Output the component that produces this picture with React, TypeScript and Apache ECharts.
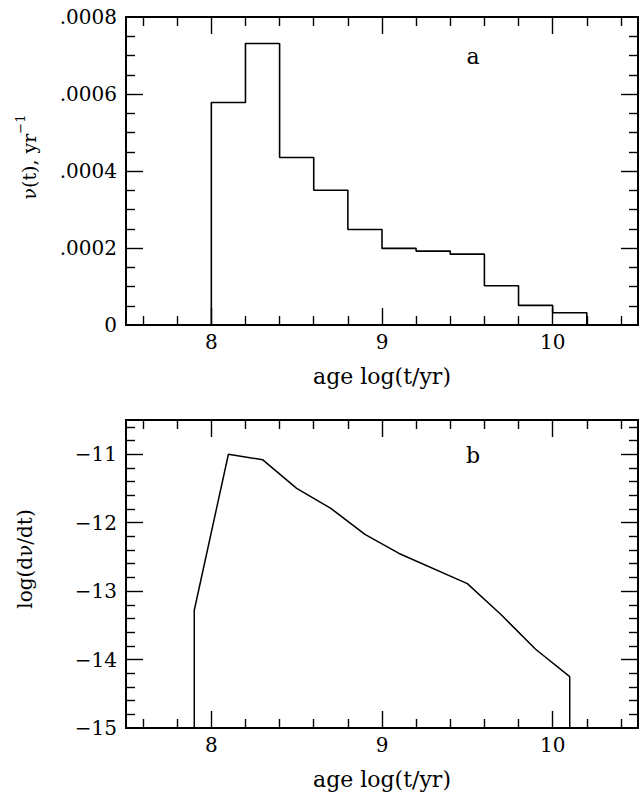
import React, { useEffect, useRef } from "react";
import * as echarts from "echarts";

// ---- Panel a: histogram of birth rate nu(t) ----
const binEdges = [7.8, 8.0, 8.2, 8.4, 8.6, 8.8, 9.0, 9.2, 9.4, 9.6, 9.8, 10.0, 10.2];
const rates = [0, 0.000578, 0.000731, 0.000435, 0.00035, 0.000248, 0.000199, 0.000192, 0.000184, 0.000102, 0.000051, 0.000032];

// ---- Panel b: log(d nu / dt) ----
const ages = [7.9, 7.9, 8.1, 8.3, 8.5, 8.7, 8.9, 9.1, 9.5, 9.7, 9.9, 10.1, 10.1];
const logRates = [-15, -13.28, -11.0, -11.08, -11.5, -11.79, -12.17, -12.45, -12.89, -13.35, -13.85, -14.25, -15];

// ---- ticks ----
const xLabels = [8, 9, 10];
const xMajorTicks = [8, 9, 10];
const xMinorTicks = [7.6, 7.8, 8.2, 8.4, 8.6, 8.8, 9.2, 9.4, 9.6, 9.8, 10.2, 10.4];
const yaLabels = [0, 0.0002, 0.0004, 0.0006, 0.0008];
const yaMajorTicks = [0.0002, 0.0004, 0.0006];
const yaMinorTicks = [0.00005, 0.0001, 0.00015, 0.00025, 0.0003, 0.00035, 0.00045, 0.0005, 0.00055, 0.00065, 0.0007, 0.00075];
const ybLabels = [-15, -14, -13, -12, -11];
const ybMajorTicks = [-14, -13, -12, -11];
const ybMinorTicks = [-14.8, -14.6, -14.4, -14.2, -13.8, -13.6, -13.4, -13.2, -12.8, -12.6, -12.4, -12.2, -11.8, -11.6, -11.4, -11.2, -10.8, -10.6];

const FONT = "'DejaVu Serif', serif";
const INK = "#000";
const LINE = { color: INK, width: 1.8 };

function buildPanel(
  p: number,
  top: number,
  yMin: number,
  yMax: number,
  yLabels: number[],
  yMajor: number[],
  yMinor: number[],
  yFmt: (v: number) => string
) {
  const grids = [
    { left: 126, top, width: 512, height: 308, containLabel: false },
    { left: 126, top, width: 512, height: 308, containLabel: false },
  ];
  const xBase = {
    type: "value",
    min: 7.5,
    max: 10.5,
    splitLine: { show: false },
    axisLine: { show: true, onZero: false, lineStyle: LINE },
  };
  const yBase = {
    type: "value",
    min: yMin,
    max: yMax,
    splitLine: { show: false },
    axisLine: { show: true, onZero: false, lineStyle: LINE },
  };
  const tick = (vals: number[], len: number) => ({
    show: true,
    inside: true,
    length: len,
    customValues: vals,
    lineStyle: { color: INK, width: 1.4 },
  });
  const xAxes = [
    {
      ...xBase,
      gridIndex: 2 * p,
      position: "bottom",
      axisTick: tick(xMajorTicks, 17),
      axisLabel: {
        show: true,
        customValues: xLabels,
        margin: 7,
        fontFamily: FONT,
        fontSize: 20,
        color: INK,
      },
      name: "age log(t/yr)",
      nameLocation: "middle",
      nameGap: 40,
      nameTextStyle: { fontFamily: FONT, fontSize: 22, color: INK },
    },
    { ...xBase, gridIndex: 2 * p, position: "top", axisTick: tick(xMajorTicks, 17), axisLabel: { show: false } },
    { ...xBase, gridIndex: 2 * p + 1, position: "bottom", axisTick: tick(xMinorTicks, 9), axisLabel: { show: false } },
    { ...xBase, gridIndex: 2 * p + 1, position: "top", axisTick: tick(xMinorTicks, 9), axisLabel: { show: false } },
  ];
  const yAxes = [
    {
      ...yBase,
      gridIndex: 2 * p,
      position: "left",
      axisTick: tick(yMajor, 17),
      axisLabel: {
        show: true,
        customValues: yLabels,
        margin: 9,
        fontFamily: FONT,
        fontSize: 20,
        color: INK,
        formatter: yFmt,
      },
    },
    { ...yBase, gridIndex: 2 * p, position: "right", axisTick: tick(yMajor, 17), axisLabel: { show: false } },
    { ...yBase, gridIndex: 2 * p + 1, position: "left", axisTick: tick(yMinor, 9), axisLabel: { show: false } },
    { ...yBase, gridIndex: 2 * p + 1, position: "right", axisTick: tick(yMinor, 9), axisLabel: { show: false } },
  ];
  return { grids, xAxes, yAxes };
}

export default function App() {
  const ref = useRef<HTMLDivElement>(null);
  useEffect(() => {
    if (!ref.current) return;
    const chart = echarts.init(ref.current, undefined, { renderer: "svg" });

    const a = buildPanel(0, 17, 0, 0.0008, yaLabels, yaMajorTicks, yaMinorTicks, (v: number) =>
      v === 0 ? "0" : v.toFixed(4).replace(/^0/, "")
    );
    const b = buildPanel(1, 420, -15, -10.5, ybLabels, ybMajorTicks, ybMinorTicks, (v: number) =>
      String(v).replace("-", "\u2212")
    );

    const histData = binEdges.map((e, i) => [e, i < rates.length ? rates[i] : 0]);
    const curveData = ages.map((t, i) => [t, logRates[i]]);

    chart.setOption({
      animation: false,
      backgroundColor: "#fff",
      grid: [...a.grids, ...b.grids],
      xAxis: [...a.xAxes, ...b.xAxes],
      yAxis: [...a.yAxes, ...b.yAxes],
      series: [
        {
          type: "line",
          name: "nu(t)",
          xAxisIndex: 0,
          yAxisIndex: 0,
          step: "end",
          data: histData,
          showSymbol: false,
          symbol: "none",
          lineStyle: { color: INK, width: 1.6 },
        },
        {
          type: "line",
          name: "log(dnu/dt)",
          xAxisIndex: 4,
          yAxisIndex: 4,
          data: curveData,
          showSymbol: false,
          symbol: "none",
          lineStyle: { color: INK, width: 1.5 },
        },
      ],
      graphic: [
        {
          type: "text",
          x: 473,
          y: 56,
          style: { text: "a", font: `22px ${FONT}`, fill: INK, align: "center", verticalAlign: "middle" },
        },
        {
          type: "text",
          x: 473,
          y: 455,
          style: { text: "b", font: `22px ${FONT}`, fill: INK, align: "center", verticalAlign: "middle" },
        },
        {
          type: "text",
          x: 26,
          y: 157,
          rotation: Math.PI / 2,
          style: {
            text: "{b|\u03bd(t), yr}{s|\u22121}",
            rich: {
              b: { fontFamily: FONT, fontSize: 19, fill: INK, verticalAlign: "bottom" },
              s: { fontFamily: FONT, fontSize: 13, fill: INK, verticalAlign: "bottom", padding: [0, 0, 11, 0] },
            },
            align: "center",
            verticalAlign: "middle",
            fill: INK,
          },
        },
        {
          type: "text",
          x: 25,
          y: 559,
          rotation: Math.PI / 2,
          style: {
            text: "log(d\u03bd/dt)",
            font: `20px ${FONT}`,
            fill: INK,
            align: "center",
            verticalAlign: "middle",
          },
        },
      ],
    });
    return () => chart.dispose();
  }, []);
  return <div ref={ref} style={{ position: "fixed", left: 0, top: 0, width: 639, height: 794 }} />;
}
